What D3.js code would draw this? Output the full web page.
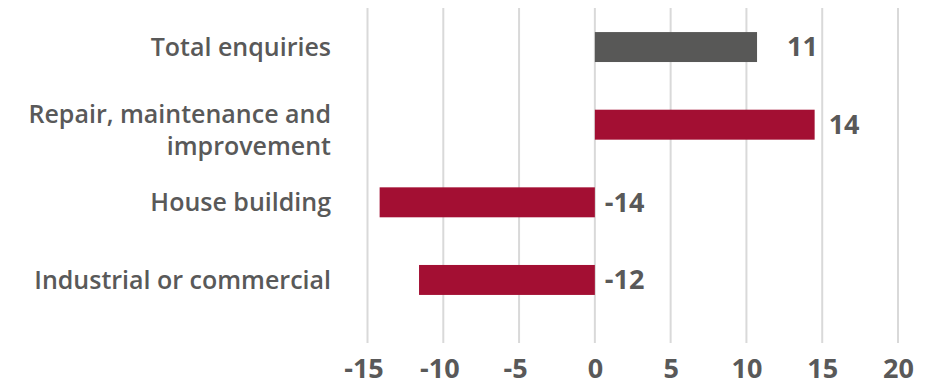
<!DOCTYPE html>
<html>
<head>
<meta charset="utf-8">
<script src="https://cdn.jsdelivr.net/npm/d3@7"></script>
<style>
  body { margin: 0; background: #fff; }
  svg text { font-family: "Open Sans", Lato, sans-serif; fill: #595959; }
  .cat { font-size: 25px; font-weight: 600; }
  .val { font-size: 27px; font-weight: 700; }
  .tick text { font-size: 27px; font-weight: 700; }
</style>
</head>
<body>
<div id="chart"></div>
<script>
var categories = ['Total enquiries', 'Repair, maintenance and improvement', 'House building', 'Industrial or commercial']
var catLines = [['Total enquiries'], ['Repair, maintenance and', 'improvement'], ['House building'], ['Industrial or commercial']]
var values = [10.7, 14.5, -14.2, -11.6]
var labels = ['11', '14', '-14', '-12']
var ticks = [-15, -10, -5, 0, 5, 10, 15, 20]

var width = 938, height = 386

var svg = d3.select('#chart').append('svg')
  .attr('width', width).attr('height', height)

var x = d3.scaleLinear().domain([-15, 20]).range([367.5, 898])
var y = d3.scaleBand().domain(categories).range([8, 319]).paddingInner(0.614).paddingOuter(0.31)

// gridlines
svg.append('g').selectAll('line').data(ticks).join('line')
  .attr('x1', d => x(d)).attr('x2', d => x(d))
  .attr('y1', 8).attr('y2', 343)
  .attr('stroke', '#d9d9d9').attr('stroke-width', 2)

// x axis labels
var xAxis = d3.axisBottom(x).tickValues(ticks).tickSize(0).tickPadding(0).tickFormat(d => d < 0 ? '-' + Math.abs(d) : d)
var ax = svg.append('g').attr('transform', 'translate(0,378)').call(xAxis)
ax.select('.domain').remove()
ax.selectAll('text').attr('dy', 0).attr('dx', d => d < 0 ? '-4px' : 0)

// bars
svg.append('g').selectAll('rect').data(values).join('rect')
  .attr('x', d => x(Math.min(0, d)))
  .attr('width', d => Math.abs(x(d) - x(0)))
  .attr('y', (d, i) => y(categories[i]))
  .attr('height', y.bandwidth())
  .attr('fill', (d, i) => i == 0 ? '#585857' : '#a30f33')

// value labels
svg.append('g').selectAll('text').data(values).join('text')
  .attr('class', 'val')
  .attr('x', (d, i) => x(Math.max(0, d)) + (i == 0 ? 30 : d < 0 ? 10 : 14))
  .attr('y', (d, i) => y(categories[i]) + y.bandwidth() / 2)
  .attr('dy', '0.35em')
  .text((d, i) => labels[i])

// category labels
var cat = svg.append('g').selectAll('text').data(catLines).join('text')
  .attr('class', 'cat')
  .attr('text-anchor', 'end')
  .attr('x', 331)
  .attr('y', (d, i) => y(categories[i]) + y.bandwidth() / 2)

cat.selectAll('tspan').data(d => d.map((t, j) => ({t: t, j: j, n: d.length}))).join('tspan')
  .attr('x', 331)
  .attr('dy', d => d.j == 0 ? (0.35 - (d.n - 1) * 0.4) + 'em' : '1.28em')
  .text(d => d.t)
</script>
</body>
</html>
